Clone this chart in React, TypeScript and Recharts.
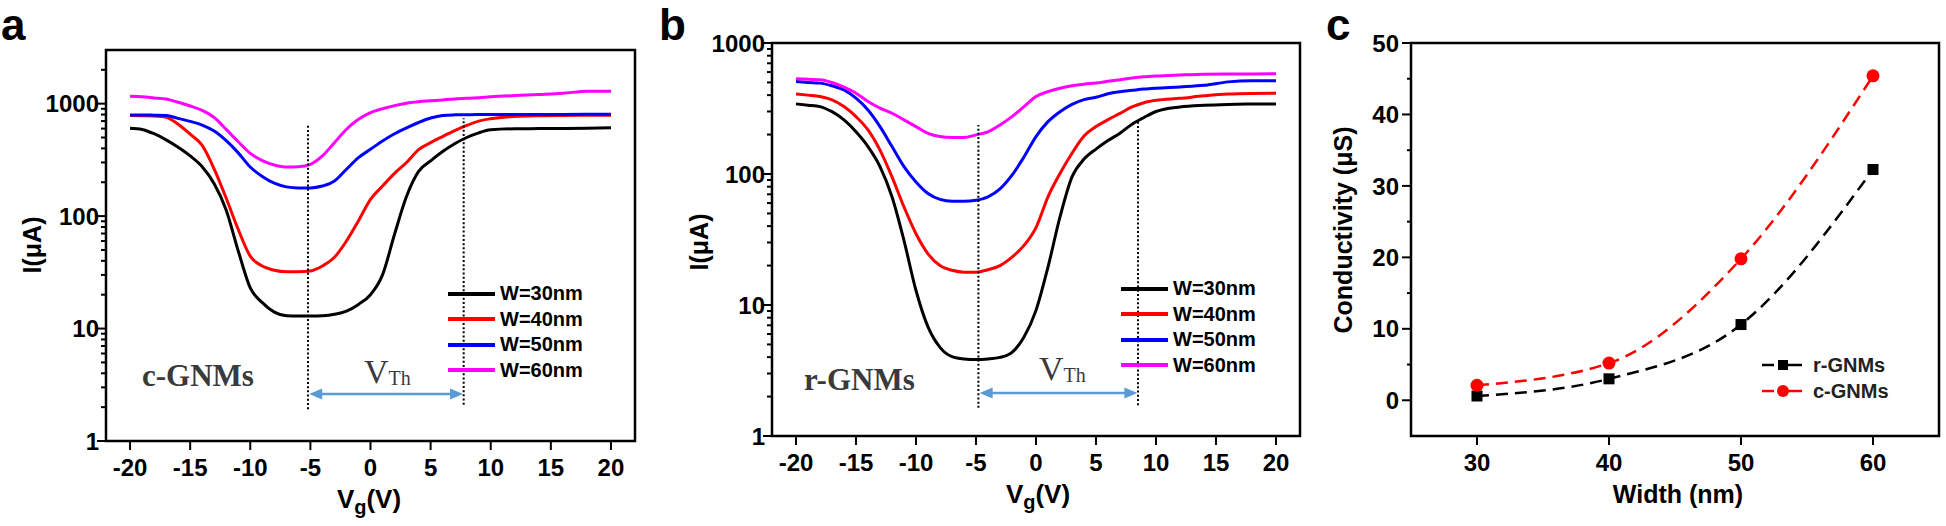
import React from 'react';
import { LineChart, Line, XAxis, YAxis, ReferenceLine, ReferenceArea, Legend } from 'recharts';

const SANS = "'Liberation Sans', Arial, Helvetica, sans-serif";
const SERIF = "'Liberation Serif', 'Times New Roman', Times, serif";

// ---------- Data: gate voltage sweep ----------
const vg = [-20, -19, -18, -17, -16, -15, -14, -13, -12, -11, -10, -9, -8, -7, -6, -5, -4, -3, -2, -1, 0, 1, 2, 3, 4, 5, 6, 7, 8, 9, 10, 12, 14, 16, 18, 20];

// panel a: c-GNMs, I (uA)
const cW30 = [605, 590, 540, 476, 409, 343, 275, 194, 113, 49, 23, 17, 14, 13, 12.9, 12.9, 13, 13.4, 14.3, 16.4, 20, 30, 69, 150, 250, 310, 375, 440, 500, 550, 585, 598, 600, 602, 605, 610];
const cW40 = [783, 780, 775, 755, 656, 535, 425, 262, 144, 76, 44, 36, 33, 32, 32, 32.5, 36, 43, 60, 91, 141, 185, 240, 300, 390, 450, 510, 575, 640, 700, 735, 770, 782, 786, 788, 790];
const cW50 = [794, 794, 790, 785, 740, 695, 645, 570, 468, 365, 273, 225, 196, 182, 178, 178, 185, 205, 261, 331, 393, 466, 540, 610, 680, 745, 785, 795, 798, 800, 800, 800, 800, 802, 804, 805];
const cW60 = [1161, 1150, 1125, 1100, 1028, 953, 871, 753, 590, 458, 361, 312, 285, 273, 275, 289, 343, 450, 592, 726, 832, 900, 960, 1010, 1040, 1060, 1080, 1100, 1115, 1130, 1150, 1180, 1205, 1235, 1290, 1290];

// panel b: r-GNMs, I (uA)
const rW30 = [343, 335, 327, 299, 259, 210, 162, 114, 67, 31, 12.9, 6.8, 4.75, 4.03, 3.87, 3.83, 3.87, 3.98, 4.35, 5.7, 9.1, 19.5, 47, 95, 130, 155, 180, 205, 240, 270, 300, 325, 335, 340, 342, 343];
const rW40 = [409, 400, 390, 368, 327, 274, 217, 152, 95, 56, 35, 24.6, 20, 18.4, 17.8, 17.8, 18.6, 20, 23.2, 28.5, 39, 67, 101, 144, 195, 230, 260, 290, 325, 350, 365, 378, 395, 408, 412, 413];
const rW50 = [508, 500, 494, 471, 439, 379, 308, 230, 162, 114, 87, 71, 64, 62, 62, 63, 67, 77, 98, 135, 193, 251, 299, 340, 370, 385, 410, 425, 435, 445, 452, 462, 475, 505, 515, 515];
const rW60 = [533, 528, 524, 499, 460, 414, 357, 318, 291, 259, 230, 204, 193, 190, 190, 199, 210, 237, 274, 327, 390, 426, 452, 471, 485, 495, 510, 525, 540, 552, 560, 570, 578, 580, 580, 582];

const seriesKeys = ['w30', 'w40', 'w50', 'w60'];
const seriesNames = ['W=30nm', 'W=40nm', 'W=50nm', 'W=60nm'];
const seriesColors = ['#000000', '#ff0000', '#0000ff', '#ff00ff'];

const vgTicks = [-20, -15, -10, -5, 0, 5, 10, 15, 20];
const logMajor = [1, 10, 100, 1000];
const logMinorA = [2, 3, 4, 5, 6, 7, 8, 9, 20, 30, 40, 50, 60, 70, 80, 90, 200, 300, 400, 500, 600, 700, 800, 900, 2000];
const logMinorB = [2, 3, 4, 5, 6, 7, 8, 9, 20, 30, 40, 50, 60, 70, 80, 90, 200, 300, 400, 500, 600, 700, 800, 900];

// panel c
const widths = [30, 40, 50, 60];
const condR = [0.6, 3.0, 10.6, 32.3];
const condC = [2.1, 5.2, 19.8, 45.4];
const condMajor = [0, 10, 20, 30, 40, 50];
const condMinor = [5, 15, 25, 35, 45];
const widthTicks = [30, 40, 50, 60];
const condNames = ['r-GNMs', 'c-GNMs'];

const rowsA = vg.map((v, i) => ({ v, w30: cW30[i], w40: cW40[i], w50: cW50[i], w60: cW60[i] }));
const rowsB = vg.map((v, i) => ({ v, w30: rW30[i], w40: rW40[i], w50: rW50[i], w60: rW60[i] }));
const rowsC = widths.map((w, i) => ({ w, r: condR[i], c: condC[i] }));

const TICK = 9;

const makeYTick = (majors: number[], gap: number, minorLen: number) => (props: any) => {
  const { x, y, payload } = props;
  const ax = x + TICK;
  const v = payload.value;
  const major = majors.indexOf(v) >= 0;
  return (
    <g>
      <line x1={ax} y1={y} x2={ax - (major ? TICK : minorLen)} y2={y} stroke="#000" strokeWidth={2} />
      {major ? (
        <text x={ax - gap} y={y} dy="0.36em" textAnchor="end" fontFamily={SANS} fontWeight="bold" fontSize={24} fill="#000">
          {v}
        </text>
      ) : null}
    </g>
  );
};

const XTick = (props: any) => {
  const { x, y, payload } = props;
  const ay = y - TICK;
  return (
    <g>
      <line x1={x} y1={ay} x2={x} y2={ay + TICK} stroke="#000" strokeWidth={2} />
      <text x={x} y={ay + 34.5} textAnchor="middle" fontFamily={SANS} fontWeight="bold" fontSize={24} fill="#000">
        {payload.value}
      </text>
    </g>
  );
};

const YTickA = makeYTick(logMajor, 7, 5);
const YTickB = makeYTick(logMajor, 7, 5);
const YTickC = makeYTick(condMajor, 12, 4);

const DoubleArrow = (p: any) => {
  const { x1, y1, x2, y2 } = p;
  const c = '#5b9bd5';
  const h = 13;
  const w = 5.5;
  return (
    <g>
      <line x1={x1 + h - 2} y1={y1} x2={x2 - h + 2} y2={y2} stroke={c} strokeWidth={2.5} />
      <polygon points={`${x1},${y1} ${x1 + h},${y1 - w} ${x1 + h},${y1 + w}`} fill={c} />
      <polygon points={`${x2},${y2} ${x2 - h},${y2 - w} ${x2 - h},${y2 + w}`} fill={c} />
    </g>
  );
};

const IvLegend = () => (
  <div style={{ fontFamily: SANS, fontWeight: 'bold', fontSize: 20, color: '#000' }}>
    {seriesNames.map((n, i) => (
      <div key={n} style={{ display: 'flex', alignItems: 'center', height: 25.5 }}>
        <svg width={47} height={6} style={{ display: 'block' }}>
          <line x1={0} x2={47} y1={3} y2={3} stroke={seriesColors[i]} strokeWidth={4} />
        </svg>
        <span style={{ marginLeft: 5, lineHeight: '25px', whiteSpace: 'nowrap' }}>{n}</span>
      </div>
    ))}
  </div>
);

const CondLegend = () => (
  <div style={{ fontFamily: SANS, fontWeight: 'bold', fontSize: 20, color: '#222' }}>
    {condNames.map((n, i) => {
      const col = i === 0 ? '#000' : '#ff0000';
      return (
        <div key={n} style={{ display: 'flex', alignItems: 'center', height: 26 }}>
          <svg width={40} height={14} style={{ display: 'block' }}>
            <line x1={0} x2={12} y1={7} y2={7} stroke={col} strokeWidth={2.5} />
            <line x1={17} x2={40} y1={7} y2={7} stroke={col} strokeWidth={2.5} />
            {i === 0 ? <rect x={16} y={2} width={10} height={10} fill={col} /> : <circle cx={21} cy={7} r={6} fill={col} />}
          </svg>
          <span style={{ marginLeft: 11, lineHeight: '26px', whiteSpace: 'nowrap' }}>{n}</span>
        </div>
      );
    })}
  </div>
);

const SquareDot = (p: any) => <rect key={`s${p.index}`} x={p.cx - 5.5} y={p.cy - 5.5} width={11} height={11} fill="#000" />;
const CircleDot = (p: any) => <circle key={`c${p.index}`} cx={p.cx} cy={p.cy} r={6.5} fill="#ff0000" />;

const dotted = { stroke: '#000', strokeWidth: 2, strokeDasharray: '2 2.2' };

function IvPanel(props: {
  rows: any[];
  yMax: number;
  minors: number[];
  yTick: any;
  margin: any;
  yWidth: number;
  leftLine: number[];
  rightLine: number[];
  arrowY: number;
  legendPos: { left: number; top: number };
}) {
  const { rows, yMax, minors, yTick, margin, yWidth, leftLine, rightLine, arrowY, legendPos } = props;
  const yTicks = [...logMajor, ...minors].sort((a, b) => a - b);
  return (
    <LineChart width={660} height={526} data={rows} margin={margin}>
      <XAxis dataKey="v" type="number" domain={[-22, 22]} ticks={vgTicks} interval={0} tickSize={TICK} tickMargin={0}
        tickLine={false} axisLine={false} tick={XTick} height={margin.xh} allowDataOverflow />
      <YAxis type="number" scale="log" domain={[1, yMax]} ticks={yTicks} interval={0} tickSize={TICK} tickMargin={0}
        tickLine={false} axisLine={false} tick={yTick} width={yWidth} allowDataOverflow />
      <ReferenceArea x1={-22} x2={22} y1={1} y2={yMax} fill="none" fillOpacity={0} stroke="#000" strokeWidth={2.5} ifOverflow="visible" />
      {seriesKeys.map((k, i) => (
        <Line key={k} dataKey={k} name={seriesNames[i]} type="monotone" stroke={seriesColors[i]} strokeWidth={3}
          dot={false} activeDot={false} isAnimationActive={false} />
      ))}
      <ReferenceLine segment={[{ x: leftLine[0], y: leftLine[1] }, { x: leftLine[0], y: leftLine[2] }]} {...dotted} ifOverflow="visible" />
      <ReferenceLine segment={[{ x: rightLine[0], y: rightLine[1] }, { x: rightLine[0], y: rightLine[2] }]} {...dotted} ifOverflow="visible" />
      <ReferenceLine segment={[{ x: leftLine[0] + 0.1, y: arrowY }, { x: rightLine[0] - 0.05, y: arrowY }]} shape={DoubleArrow} ifOverflow="visible" />
      <Legend layout="vertical" align="center" verticalAlign="middle" content={() => <IvLegend />}
        wrapperStyle={{ left: legendPos.left, top: legendPos.top, width: 170, height: 104 }} />
    </LineChart>
  );
}

export default function App() {
  return (
    <div style={{ position: 'absolute', left: 0, top: 0, width: 1946, height: 526, background: '#fff', overflow: 'hidden' }}>
      <div style={{ position: 'absolute', left: 0, top: 0 }}>
        <IvPanel rows={rowsA} yMax={3000} minors={logMinorA} yTick={YTickA}
          margin={{ top: 50, right: 25, bottom: 0, left: 0, xh: 85 }} yWidth={106}
          leftLine={[-5.2, 1.92, 644]} rightLine={[7.75, 2.1, 743]} arrowY={2.62}
          legendPos={{ left: 448, top: 281 }} />
      </div>
      <div style={{ position: 'absolute', left: 660, top: 0 }}>
        <IvPanel rows={rowsB} yMax={1000} minors={logMinorB} yTick={YTickB}
          margin={{ top: 43, right: 20, bottom: 0, left: 0, xh: 90 }} yWidth={112}
          leftLine={[-4.8, 1.64, 237]} rightLine={[8.5, 1.72, 250]} arrowY={2.13}
          legendPos={{ left: 461, top: 276 }} />
      </div>
      <div style={{ position: 'absolute', left: 1320, top: 0 }}>
        <LineChart width={626} height={526} data={rowsC} margin={{ top: 43, right: 7, bottom: 0, left: 0 }}>
          <XAxis dataKey="w" type="number" domain={[25, 65]} ticks={widthTicks} interval={0} tickSize={TICK} tickMargin={0}
            tickLine={false} axisLine={false} tick={XTick} height={90} allowDataOverflow />
          <YAxis type="number" domain={[-5, 50]} ticks={[...condMajor, ...condMinor].sort((a, b) => a - b)} interval={0}
            tickSize={TICK} tickMargin={0} tickLine={false} axisLine={false} tick={YTickC} width={91} allowDataOverflow />
          <ReferenceArea x1={25} x2={65} y1={-5} y2={50} fill="none" fillOpacity={0} stroke="#000" strokeWidth={2.5} ifOverflow="visible" />
          <Line dataKey="r" name="r-GNMs" type="monotone" stroke="#000" strokeWidth={2.5} strokeDasharray="12 7"
            dot={SquareDot} activeDot={false} isAnimationActive={false} />
          <Line dataKey="c" name="c-GNMs" type="monotone" stroke="#ff0000" strokeWidth={2.5} strokeDasharray="12 7"
            dot={CircleDot} activeDot={false} isAnimationActive={false} />
          <Legend layout="vertical" align="center" verticalAlign="middle" content={() => <CondLegend />}
            wrapperStyle={{ left: 442, top: 352, width: 150, height: 52 }} />
        </LineChart>
      </div>
      <svg width={1946} height={526} style={{ position: 'absolute', left: 0, top: 0, pointerEvents: 'none' }}>
        <g fontFamily={SANS} fontWeight="bold" fill="#000">
          <text x={1} y={40} fontSize={44}>a</text>
          <text x={659} y={40} fontSize={44}>b</text>
          <text x={1326} y={40} fontSize={44}>c</text>
          <text transform="translate(32,245) rotate(-90)" textAnchor="middle" dominantBaseline="central" fontSize={25}>I(μA)</text>
          <text transform="translate(699,242) rotate(-90)" textAnchor="middle" dominantBaseline="central" fontSize={25}>I(μA)</text>
          <text transform="translate(1343,230) rotate(-90)" textAnchor="middle" dominantBaseline="central" fontSize={25}>Conductivity (μS)</text>
          <text x={369} y={508} textAnchor="middle" fontSize={26}>V<tspan fontSize={20} dy={6}>g</tspan><tspan dy={-6}>(V)</tspan></text>
          <text x={1038} y={503} textAnchor="middle" fontSize={26}>V<tspan fontSize={20} dy={6}>g</tspan><tspan dy={-6}>(V)</tspan></text>
          <text x={1678} y={503} textAnchor="middle" fontSize={25}>Width (nm)</text>
        </g>
        <g fontFamily={SERIF} fill="#3a3a3a">
          <text x={142} y={386} fontSize={31} fontWeight="bold">c-GNMs</text>
          <text x={804} y={390} fontSize={31} fontWeight="bold">r-GNMs</text>
          <text x={364} y={383} fontSize={34}>V<tspan fontSize={20} dy={2}>Th</tspan></text>
          <text x={1039} y={380} fontSize={34}>V<tspan fontSize={20} dy={2}>Th</tspan></text>
        </g>
      </svg>
    </div>
  );
}
